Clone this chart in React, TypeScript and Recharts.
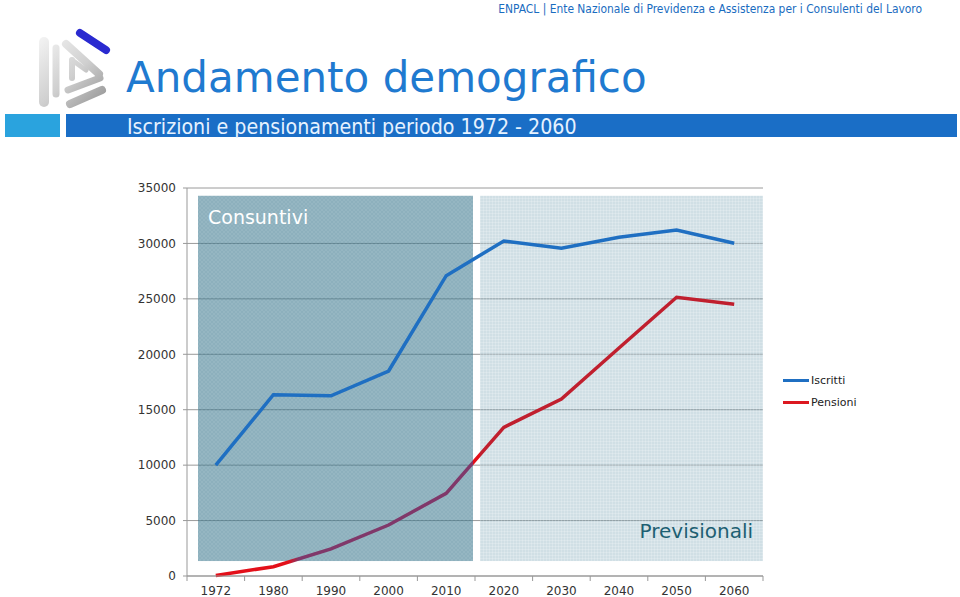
import { CartesianGrid, Line, LineChart, ReferenceArea, XAxis, YAxis } from "recharts";

const years = ["1972", "1980", "1990", "2000", "2010", "2020", "2030", "2040", "2050", "2060"];
const iscritti = [10000, 16350, 16260, 18490, 27090, 30220, 29560, 30550, 31210, 30010];
const pensioni = [50, 840, 2440, 4600, 7460, 13410, 15970, 20570, 25140, 24510];
const yTicks = [0, 5000, 10000, 15000, 20000, 25000, 30000, 35000];
const seriesNames = ["Iscritti", "Pensioni"];
const periodLabels = ["Consuntivi", "Previsionali"];

const data = years.map((year, i) => ({
  year,
  iscritti: iscritti[i],
  pensioni: pensioni[i],
}));

const FONT = "'DejaVu Sans', sans-serif";
const BLUE = "#1f6fc2";
const RED = "#dc1820";
const TOP = 188;
const LEFT = 187;
const PLOT_W = 576;
const PLOT_H = 388;
const AXIS_Y = TOP + PLOT_H;
const BAND = PLOT_W / years.length;

function YearTick(props: any) {
  const { x, payload, index } = props;
  const half = BAND / 2;
  return (
    <g>
      <line x1={x - half} x2={x - half} y1={AXIS_Y} y2={AXIS_Y + 5} stroke="#999" />
      {index === years.length - 1 && (
        <line x1={x + half} x2={x + half} y1={AXIS_Y} y2={AXIS_Y + 5} stroke="#999" />
      )}
      <text x={x} y={AXIS_Y + 19} textAnchor="middle" fontSize={12} fontFamily={FONT} fill="#333">
        {payload.value}
      </text>
    </g>
  );
}

const boxShape = (insetL: number, insetR: number, pattern: string) => (p: any) => (
  <rect
    x={p.x + insetL}
    y={p.y}
    width={p.width - insetL - insetR}
    height={p.height}
    fill={`url(#${pattern})`}
  />
);

function Logo() {
  return (
    <svg width={120} height={110} style={{ position: "absolute", left: 0, top: 18 }}>
      <defs>
        <linearGradient id="steel" gradientUnits="userSpaceOnUse" x1="30" y1="15" x2="105" y2="95">
          <stop offset="0" stopColor="#fafafa" />
          <stop offset="0.55" stopColor="#cfcfcf" />
          <stop offset="1" stopColor="#8c8c8c" />
        </linearGradient>
      </defs>
      <g stroke="url(#steel)" strokeLinecap="round" fill="none">
        <line x1={44} y1={24} x2={44} y2={84} strokeWidth={10} />
        <line x1={56} y1={30} x2={56} y2={76} strokeWidth={7} />
        <line x1={66} y1={26} x2={99} y2={56} strokeWidth={8} />
        <line x1={72} y1={42} x2={72} y2={60} strokeWidth={6} />
        <line x1={72} y1={42} x2={86} y2={52} strokeWidth={5} />
        <line x1={68} y1={72} x2={100} y2={60} strokeWidth={7} />
        <line x1={70} y1={86} x2={102} y2={72} strokeWidth={8} />
      </g>
      <line x1={80} y1={15} x2={106} y2={32} stroke="#2a2ad0" strokeWidth={8} strokeLinecap="round" />
    </svg>
  );
}

export default function App() {
  return (
    <div style={{ position: "absolute", left: 0, top: 0, width: 960, height: 597, background: "#fff", fontFamily: FONT }}>
      <div
        style={{
          position: "absolute",
          right: 38,
          top: 2,
          fontSize: 11.9,
          color: "#1a6cc0",
          fontFamily: "'DejaVu Sans Condensed', sans-serif",
          whiteSpace: "nowrap",
        }}
      >
        ENPACL | Ente Nazionale di Previdenza e Assistenza per i Consulenti del Lavoro
      </div>
      <Logo />
      <div
        style={{
          position: "absolute",
          left: 126,
          top: 52,
          fontSize: 42,
          color: "#1f7ad0",
          whiteSpace: "nowrap",
          lineHeight: "52px",
        }}
      >
        Andamento demografico
      </div>
      <div style={{ position: "absolute", left: 5, top: 114, width: 55, height: 23, background: "#2aa3de" }} />
      <div style={{ position: "absolute", left: 66, top: 114, width: 891, height: 23, background: "#1a6ec6" }} />
      <div
        style={{
          position: "absolute",
          left: 127,
          top: 114,
          fontSize: 21.2,
          lineHeight: "26px",
          color: "#e6f2ff",
          fontFamily: "'DejaVu Sans Condensed', sans-serif",
          whiteSpace: "nowrap",
        }}
      >
        Iscrizioni e pensionamenti periodo 1972 - 2060
      </div>

      <div style={{ position: "absolute", left: 0, top: 0 }}>
        <LineChart
          width={960}
          height={597}
          data={data}
          margin={{ top: TOP, right: 960 - LEFT - PLOT_W, bottom: 0, left: LEFT - 60 }}
        >
          <defs>
            <pattern id="patPast" width={4} height={4} patternUnits="userSpaceOnUse">
              <rect width={4} height={4} fill="rgba(47,111,135,0.55)" />
              <path d="M0,4 L4,0 M0,0 L4,4" stroke="rgba(255,255,255,0.07)" strokeWidth={1} />
            </pattern>
            <pattern id="patFuture" width={3} height={3} patternUnits="userSpaceOnUse">
              <rect width={3} height={3} fill="rgba(126,166,183,0.36)" />
              <path d="M0,0.5 L3,0.5 M0.5,0 L0.5,3" stroke="rgba(255,255,255,0.18)" strokeWidth={1} />
            </pattern>
            <linearGradient id="redStroke" x1="0" y1="0" x2="1" y2="0">
              <stop offset="0" stopColor="#e3101a" />
              <stop offset="0.14" stopColor="#e3101a" />
              <stop offset="0.16" stopColor="#80386a" />
              <stop offset="0.496" stopColor="#80386a" />
              <stop offset="0.496" stopColor="#e3101a" />
              <stop offset="0.51" stopColor="#e3101a" />
              <stop offset="0.51" stopColor="#c01f2e" />
              <stop offset="1" stopColor="#c01f2e" />
            </linearGradient>
          </defs>
          <CartesianGrid vertical={false} stroke="#9a9a9a" strokeWidth={1} />
          <ReferenceArea
            x1="1972"
            x2="2010"
            y1={1350}
            y2={34300}
            zIndex={-50}
            shape={boxShape(11, 2, "patPast")}
            label={(p: any) => (
              <text x={p.viewBox.x + 21} y={p.viewBox.y + 28} fill="#ffffff" fontSize={19} fontFamily={FONT}>
                {periodLabels[0]}
              </text>
            )}
          />
          <ReferenceArea
            x1="2020"
            x2="2060"
            y1={1350}
            y2={34300}
            zIndex={-50}
            shape={boxShape(5, 0, "patFuture")}
            label={(p: any) => (
              <text
                x={p.viewBox.x + p.viewBox.width - 10}
                y={p.viewBox.y + p.viewBox.height - 23}
                fill="#1d5f72"
                fontSize={20}
                textAnchor="end"
                fontFamily={FONT}
              >
                {periodLabels[1]}
              </text>
            )}
          />
          <XAxis
            dataKey="year"
            scale="band"
            stroke="#999"
            tickLine={false}
            tick={<YearTick />}
            height={21}
            interval={0}
          />
          <YAxis
            domain={[0, 35000]}
            ticks={yTicks}
            width={60}
            stroke="#999"
            tickSize={4}
            tickMargin={7}
            tick={{ fontSize: 12, fill: "#333", fontFamily: FONT }}
            interval={0}
          />
          <Line
            dataKey="pensioni"
            name={seriesNames[1]}
            stroke="url(#redStroke)"
            strokeWidth={3.5}
            dot={false}
            activeDot={false}
            isAnimationActive={false}
          />
          <Line
            dataKey="iscritti"
            name={seriesNames[0]}
            stroke={BLUE}
            strokeWidth={3.5}
            dot={false}
            activeDot={false}
            isAnimationActive={false}
          />
        </LineChart>
      </div>

      <div style={{ position: "absolute", left: 783, top: 369, fontSize: 11, color: "#222" }}>
        {seriesNames.map((name, i) => (
          <div key={name} style={{ display: "flex", alignItems: "center", height: 22 }}>
            <span
              style={{
                display: "inline-block",
                width: 26,
                height: 3,
                background: i === 0 ? BLUE : RED,
                marginRight: 2,
              }}
            />
            {name}
          </div>
        ))}
      </div>
    </div>
  );
}
